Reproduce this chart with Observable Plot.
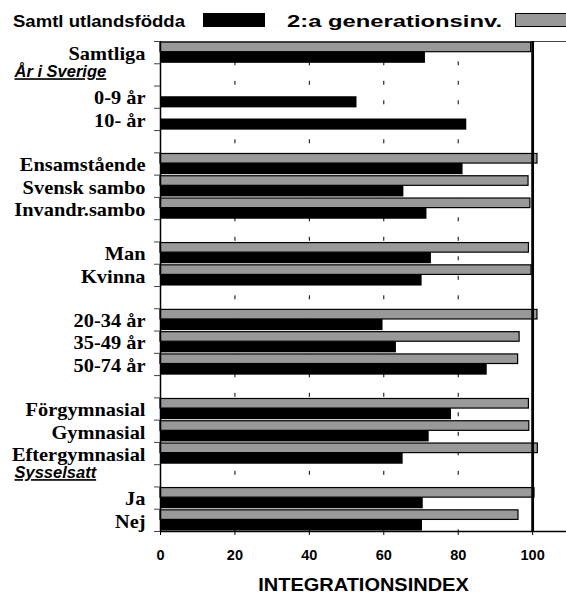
<!DOCTYPE html>
<html>
<head>
<meta charset="utf-8">
<script src="https://cdn.jsdelivr.net/npm/d3@7"></script>
<script src="https://cdn.jsdelivr.net/npm/@observablehq/plot@0.6"></script>
<style>
  body { margin: 0; background: #fff; }
  svg { display: block; }
  .hdr text { text-decoration: underline; }
</style>
</head>
<body>
<div id="chart"></div>
<script>
// ---- data ----
const rows = ["Samtliga", "År i Sverige", "0-9 år", "10- år", "",
  "Ensamstående", "Svensk sambo", "Invandr.sambo", "",
  "Man", "Kvinna", "",
  "20-34 år", "35-49 år", "50-74 år", "",
  "Förgymnasial", "Gymnasial", "Eftergymnasial", "Sysselsatt",
  "Ja", "Nej"];
const headerRows = ["År i Sverige", "Sysselsatt"];
const seriesNames = ["Samtl utlandsfödda", "2:a generationsinv."];
const utlandsfodda = [71.2, null, 52.8, 82.3, null,
  81.3, 65.4, 71.6, null,
  72.8, 70.3, null,
  59.8, 63.4, 87.8, null,
  78.2, 72.2, 65.2, null,
  70.6, 70.4];
const andraGen = [99.6, null, null, null, null,
  101.3, 98.9, 99.4, null,
  99.0, 99.7, null,
  101.3, 96.5, 96.1, null,
  99.0, 99.1, 101.4, null,
  100.5, 96.2];
const xTicks = [0, 20, 40, 60, 80, 100];
const gridValues = [20, 40, 60, 80];
const refValue = 100;
const xLabel = "INTEGRATIONSINDEX";

const table = rows.map((r, i) => ({row: r, i, u: utlandsfodda[i], g: andraGen[i], header: headerRows.includes(r)}));
const nRows = rows.length;

// ---- legend ----
const W = 566;
const legend = d3.create("svg").attr("width", W).attr("height", 32);
const lg = legend.append("g").attr("font-family", "'Liberation Sans', Arial, sans-serif").attr("font-weight", "bold").attr("font-size", 16.5);
lg.append("text").attr("x", 13).attr("y", 26.5).attr("textLength", 172).attr("lengthAdjust", "spacingAndGlyphs").text(seriesNames[0]);
lg.append("rect").attr("x", 203).attr("y", 13).attr("width", 62).attr("height", 14).attr("fill", "#000");
lg.append("text").attr("x", 287).attr("y", 26.5).attr("textLength", 215).attr("lengthAdjust", "spacingAndGlyphs").text(seriesNames[1]);
lg.append("rect").attr("x", 515.5).attr("y", 13.5).attr("width", 60).attr("height", 13).attr("fill", "#999").attr("stroke", "#000");
document.getElementById("chart").append(legend.node());

// ---- plot ----
const serif = "'Liberation Serif', 'Times New Roman', serif";
const sans = "'Liberation Sans', Arial, sans-serif";
const plot = Plot.plot({
  width: W,
  height: 564,
  marginTop: 9,
  marginBottom: 65,
  marginLeft: 160,
  marginRight: 0,
  x: {domain: [0, 109.1]},
  y: {domain: [0, nRows], reverse: true},
  style: {background: "#fff", color: "#000"},
  marks: [
    Plot.ruleX(gridValues, {y1: 0, y2: nRows, stroke: "#000", strokeWidth: 1, strokeDasharray: "4,15.5", strokeDashoffset: 18.7}),
    Plot.rectX(table.filter(d => d.g != null), {x1: 0, x2: "g", y1: d => d.i + 0.05, y2: d => d.i + 0.48, fill: "#999", stroke: "#000", strokeWidth: 1.2}),
    Plot.rectX(table.filter(d => d.u != null), {x1: 0, x2: "u", y1: d => d.i + 0.48, y2: d => d.i + 0.98, fill: "#000"}),
    Plot.ruleY([0], {stroke: "#444", strokeWidth: 1}),
    Plot.ruleY([nRows], {stroke: "#000", strokeWidth: 1.5}),
    Plot.ruleX([0], {y1: 0, y2: nRows, stroke: "#000", strokeWidth: 1.5}),
    Plot.ruleX([refValue], {y1: 0, y2: nRows, stroke: "#000", strokeWidth: 2.8}),
    Plot.axisY({ticks: d3.range(0, nRows + 1), tickSize: 6, tickFormat: () => "", stroke: "#444"}),
    Plot.axisX({ticks: xTicks, tickSize: 4, tickPadding: 14, label: null, fontSize: 14.5, fontWeight: "bold", fontFamily: sans}),
    Plot.text(table.filter(d => d.row && !d.header), {y: d => d.i + 0.5, text: "row", frameAnchor: "left", textAnchor: "end", dx: -15, dy: 1, fontFamily: serif, fontWeight: "bold", fontSize: 19.5, className: "ylab"}),
    Plot.text(table.filter(d => d.header), {y: d => d.i + 0.5, text: "row", frameAnchor: "left", textAnchor: "start", dx: -146, dy: -3, fontFamily: sans, fontWeight: "bold", fontStyle: "italic", fontSize: 16.5, className: "hdr"}),
    Plot.text([xLabel], {frameAnchor: "bottom", dy: 59, text: d => d, fontFamily: sans, fontWeight: "bold", fontSize: 18.5, className: "xlab"})
  ]
});
document.getElementById("chart").append(plot);

// widen glyphs horizontally to match the reference's slightly stretched type
function stretch(sel, k) {
  plot.querySelectorAll(sel).forEach(t => {
    const w = t.getComputedTextLength();
    t.setAttribute("textLength", (w * k).toFixed(1));
    t.setAttribute("lengthAdjust", "spacingAndGlyphs");
  });
}
stretch(".ylab text", 1.045);
stretch(".xlab text", 1.08);
</script>
</body>
</html>
